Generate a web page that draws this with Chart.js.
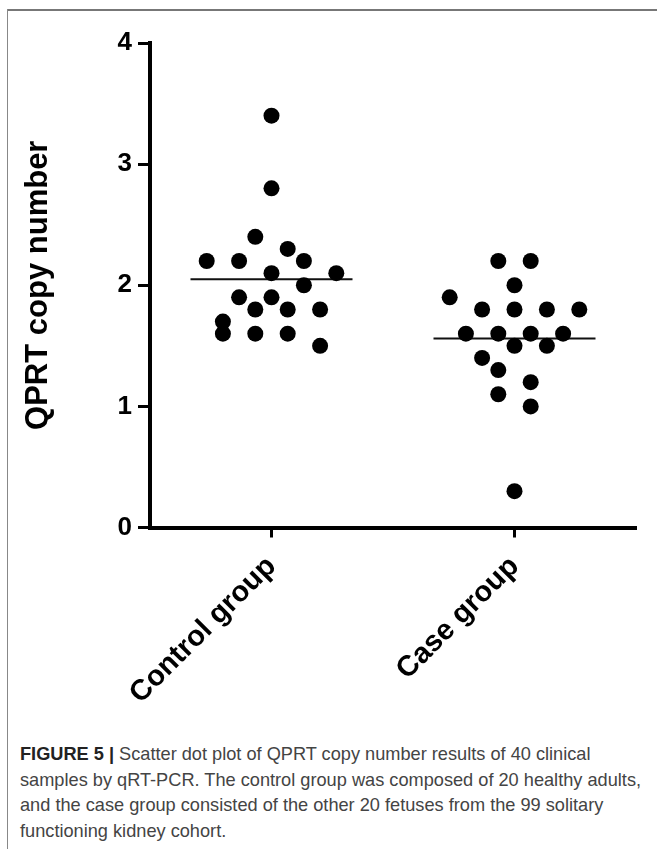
<!DOCTYPE html>
<html>
<head>
<meta charset="utf-8">
<script src="https://cdn.jsdelivr.net/npm/chart.js@4"></script>
<style>
  html, body { margin: 0; padding: 0; background: #fff; }
  body { width: 657px; height: 849px; position: relative; overflow: hidden; }
  #frameTop { position: absolute; left: 8px; top: 9px; width: 649px; height: 2px; background: #777; }
  #frameLeft { position: absolute; left: 7px; top: 9px; width: 1px; height: 840px; background: #888; }
  #chartBox { position: absolute; left: 0; top: 0; width: 657px; height: 720px; }
  #caption {
    position: absolute; left: 20px; top: 742px;
    font-family: "Liberation Sans", Arial, sans-serif; font-size: 18.2px;
    line-height: 25.7px; color: #444; white-space: nowrap;
  }
  #caption b { color: #222; }
</style>
</head>
<body>
<div id="frameTop"></div>
<div id="frameLeft"></div>
<div id="chartBox"><canvas id="dotChart" width="657" height="720"></canvas></div>
<div id="caption">
  <b>FIGURE 5 |</b> Scatter dot plot of QPRT copy number results of 40 clinical<br>
  samples by qRT-PCR. The control group was composed of 20 healthy adults,<br>
  and the case group consisted of the other 20 fetuses from the 99 solitary<br>
  functioning kidney cohort.
</div>
<script>
  // groups on the x axis
  const categories = ["Control group", "Case group"];

  // copy number per sample, with the column slot it sits in inside the swarm
  const controlValues = [3.4, 2.8, 2.4, 2.3, 2.2, 2.2, 2.2, 2.1, 2.1, 2.0, 1.9, 1.9, 1.8, 1.8, 1.8, 1.7, 1.6, 1.6, 1.6, 1.5];
  const controlSlots  = [0, 0, -1, 1, -4, -2, 2, 0, 4, 2, -2, 0, -1, 1, 3, -3, -3, -1, 1, 3];
  const caseValues = [2.2, 2.2, 2.0, 1.9, 1.8, 1.8, 1.8, 1.8, 1.6, 1.6, 1.6, 1.6, 1.5, 1.5, 1.4, 1.3, 1.2, 1.1, 1.0, 0.3];
  const caseSlots  = [-1, 1, 0, -4, -2, 0, 2, 4, -3, -1, 1, 3, 0, 2, -2, -1, 1, -1, 1, 0];

  // group means (horizontal bars)
  const groupMeans = [2.05, 1.56];

  const yTicks = [0, 1, 2, 3, 4];

  const SLOT = 1 / 15;
  const HALF_BAR = 1 / 3;
  const FONT = "'Liberation Sans', Arial, sans-serif";

  function swarm(values, slots, groupIndex) {
    return values.map((v, i) => ({ x: groupIndex + 1 + slots[i] * SLOT, y: v }));
  }

  function meanBar(groupIndex) {
    const c = groupIndex + 1;
    return [{ x: c - HALF_BAR, y: groupMeans[groupIndex] }, { x: c + HALF_BAR, y: groupMeans[groupIndex] }];
  }

  const dotStyle = { pointRadius: 8, pointHoverRadius: 8, backgroundColor: "#000", borderWidth: 0, showLine: false };
  const barStyle = { showLine: true, borderColor: "#111", borderWidth: 2, pointRadius: 0, fill: false };

  const ctx = document.getElementById("dotChart").getContext("2d");
  new Chart(ctx, {
    type: "scatter",
    data: {
      datasets: [
        Object.assign({ label: categories[0], data: swarm(controlValues, controlSlots, 0) }, dotStyle),
        Object.assign({ label: categories[1], data: swarm(caseValues, caseSlots, 1) }, dotStyle),
        Object.assign({ label: "mean control", data: meanBar(0) }, barStyle),
        Object.assign({ label: "mean case", data: meanBar(1) }, barStyle)
      ]
    },
    options: {
      responsive: false,
      animation: false,
      layout: { padding: { top: 43, right: 21, left: 0, bottom: 0 } },
      plugins: { legend: { display: false }, tooltip: { enabled: false } },
      scales: {
        x: {
          type: "linear",
          min: 0.5,
          max: 2.5,
          afterBuildTicks: (scale) => { scale.ticks = categories.map((_, i) => ({ value: i + 1 })); },
          afterFit: (scale) => { scale.height = 720 - 527.5; },
          ticks: {
            callback: (value) => categories[value - 1],
            minRotation: 45,
            maxRotation: 45,
            padding: 12,
            color: "#000",
            font: { family: FONT, size: 29, weight: "bold" }
          },
          grid: { drawOnChartArea: false, drawTicks: true, tickLength: 10, tickWidth: 3, color: "#000" },
          border: { display: true, width: 4, color: "#000" }
        },
        y: {
          min: 0,
          max: 4,
          afterBuildTicks: (scale) => { scale.ticks = yTicks.map((v) => ({ value: v })); },
          afterFit: (scale) => { scale.width = 150; },
          ticks: {
            padding: 6,
            color: "#000",
            font: { family: FONT, size: 26, weight: "bold" }
          },
          grid: { drawOnChartArea: false, drawTicks: true, tickLength: 12, tickWidth: 3, color: "#000" },
          border: { display: true, width: 4, color: "#000" },
          title: {
            display: true,
            text: "QPRT copy number",
            color: "#000",
            padding: { top: 20, bottom: 0 },
            font: { family: FONT, size: 31, weight: "bold" }
          }
        }
      }
    }
  });
</script>
</body>
</html>
